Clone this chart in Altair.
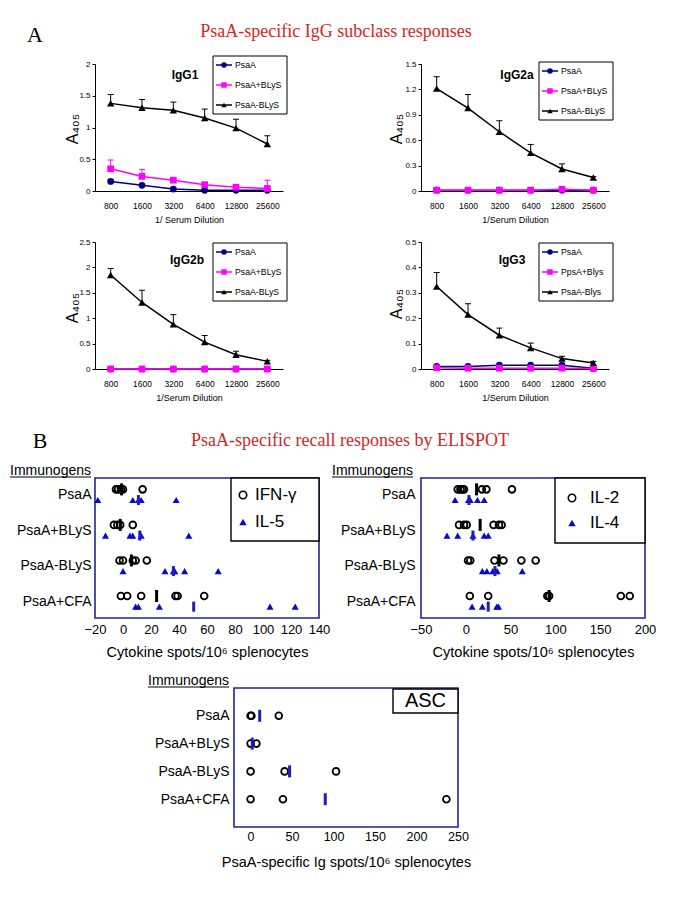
import json
import altair as alt
import pandas as pd

SANS = "Liberation Sans"
SERIF = "Liberation Serif"
NAVY = "#000080"
MAGENTA = "#ff00ff"
BLACK = "#000000"
RED = "#d42626"
BOX_BLUE = "#23238e"
TRI_BLUE = "#0a0acc"
BAR_BLUE = "#1e1eb4"

# ---------------- Panel A data ----------------
dilutions = ["800", "1600", "3200", "6400", "12800", "25600"]
igg_series = ["PsaA", "PsaA+BLyS", "PsaA-BLyS"]
igg3_series = ["PsaA", "PpsA+Blys", "PsaA-Blys"]

igg1_psaa = [0.15, 0.09, 0.03, 0.01, 0.01, 0.01]
igg1_psaa_top = [0.18, 0.11, 0.05, 0.02, 0.02, 0.02]
igg1_plus = [0.35, 0.23, 0.17, 0.10, 0.06, 0.04]
igg1_plus_top = [0.49, 0.34, 0.20, 0.13, 0.08, 0.17]
igg1_minus = [1.38, 1.31, 1.27, 1.15, 0.99, 0.74]
igg1_minus_top = [1.52, 1.44, 1.40, 1.29, 1.13, 0.87]

igg2a_psaa = [0.01, 0.01, 0.01, 0.01, 0.01, 0.01]
igg2a_psaa_top = [0.02, 0.02, 0.02, 0.02, 0.02, 0.02]
igg2a_plus = [0.01, 0.01, 0.01, 0.01, 0.02, 0.01]
igg2a_plus_top = [0.03, 0.02, 0.02, 0.02, 0.03, 0.02]
igg2a_minus = [1.21, 0.98, 0.70, 0.45, 0.26, 0.16]
igg2a_minus_top = [1.35, 1.14, 0.83, 0.55, 0.32, 0.17]

igg2b_psaa = [0.0, 0.0, 0.0, 0.0, 0.0, 0.0]
igg2b_psaa_top = [0.01, 0.01, 0.01, 0.01, 0.01, 0.01]
igg2b_plus = [0.0, 0.0, 0.0, 0.0, 0.0, 0.0]
igg2b_plus_top = [0.01, 0.01, 0.01, 0.01, 0.01, 0.01]
igg2b_minus = [1.85, 1.31, 0.88, 0.53, 0.28, 0.15]
igg2b_minus_top = [1.98, 1.55, 1.07, 0.66, 0.35, 0.17]

igg3_psaa = [0.010, 0.010, 0.015, 0.015, 0.015, 0.003]
igg3_psaa_top = [0.012, 0.012, 0.017, 0.017, 0.017, 0.005]
igg3_plus = [0.005, 0.003, 0.003, 0.003, 0.003, 0.002]
igg3_plus_top = [0.006, 0.004, 0.004, 0.004, 0.004, 0.003]
igg3_minus = [0.325, 0.214, 0.133, 0.083, 0.041, 0.024]
igg3_minus_top = [0.380, 0.257, 0.161, 0.102, 0.050, 0.030]

# ---------------- Panel B data ----------------
immunogens = ["PsaA", "PsaA+BLyS", "PsaA-BLyS", "PsaA+CFA"]

ifng = [[-5, -3.5, -1.5, 0, 14],
        [-6.5, -4, -2, 7],
        [-2.5, 0, 7, 9, 17],
        [-1.5, 3, 13, 37.5, 39, 58]]
ifng_mean = [-1, -2, 6, 24]
il5 = [[-18, 7, 11, 13, 38],
       [-12.5, 5, 7, 13, 47],
       [0, 30, 36, 37, 44, 68],
       [9, 11, 26, 105, 123]]
il5_mean = [11, 12, 36, 50.5]

il2 = [[-9, -6, -4, -2, 18, 23, 51.5],
       [-7.5, -2, 1, 31, 37, 40],
       [2.5, 5, 32, 42, 62, 78],
       [4.5, 25, 91, 93, 173, 183]]
il2_mean = [12, 16, 37, 93]
il4 = [[-12, 3, 5, 13, 20.5],
       [-21, -9, 8, 20.5, 25],
       [18.5, 23.5, 30, 35, 63],
       [7, 18.5, 34.5, 36.5]]
il4_mean = [3.5, 8, 32.5, 25]

asc = [[0, 1, 34],
       [0, 7],
       [0, 41, 103],
       [0, 39, 236]]
asc_mean = [11, 2, 47, 90]

ONE = pd.DataFrame({"k": [0]})


def txt(text, x, y, size, font=SANS, **kw):
    return alt.Chart(ONE).mark_text(text=text, fontSize=size, font=font, **kw).encode(
        x=alt.value(x), y=alt.value(y))


def rule(x1, y1, x2, y2, color="black", width=1.0, opacity=1.0):
    return alt.Chart(ONE).mark_rule(color=color, strokeWidth=width, strokeOpacity=opacity).encode(
        x=alt.value(x1), y=alt.value(y1), x2=alt.value(x2), y2=alt.value(y2))


def anchor(x, y1, y2):
    return rule(x, y1, x, y2, opacity=0, width=0.1)


def box(x1, y1, x2, y2, stroke="black", width=1.0, fill="white", fill_opacity=1.0):
    return alt.Chart(ONE).mark_rect(fill=fill, fillOpacity=fill_opacity, stroke=stroke,
                                    strokeWidth=width).encode(
        x=alt.value(x1), y=alt.value(y1), x2=alt.value(x2), y2=alt.value(y2))


def sym(x, y, shape, size, color, filled=True, sw=1.0):
    if filled:
        m = alt.Chart(ONE).mark_point(shape=shape, size=size, filled=True, color=color, opacity=1)
    else:
        m = alt.Chart(ONE).mark_point(shape=shape, size=size, filled=False, color=color,
                                      strokeWidth=sw, opacity=1)
    return m.encode(x=alt.value(x), y=alt.value(y))


def igg_panel(names, means, tops, ymax, yvals, label, label_xy, ylab_xy, xtitle, leg_y0,
              anchor_layer=None, extra=()):
    W, H = 188, 127
    colors = [NAVY, MAGENTA, BLACK]
    shapes = ["circle", "square", "triangle-up"]
    sizes = [45, 45, 55]
    x_enc = alt.X("dil:N", sort=dilutions, title=xtitle,
                  scale=alt.Scale(type="point", padding=0.5),
                  axis=alt.Axis(labelAngle=0, ticks=False, domainColor="black", domainWidth=1,
                                labelFontSize=8.5, labelPadding=10, labelFont=SANS,
                                labelColor="black", titleFont=SANS, titleFontSize=9,
                                titleFontWeight="normal", titleColor="black", titlePadding=6))

    def y_enc(field):
        return alt.Y(field, title=None,
                     scale=alt.Scale(domain=[0, ymax], nice=False, zero=True),
                     axis=alt.Axis(values=yvals, format="~g", grid=False, domainColor="black",
                                   tickColor="black", tickSize=3, labelFontSize=8,
                                   labelFont=SANS, labelColor="black", labelPadding=2))

    layers = []
    if anchor_layer is not None:
        layers.append(anchor_layer)
    for name, m, t, c, s, sz in zip(names, means, tops, colors, shapes, sizes):
        df = pd.DataFrame({"dil": dilutions, "v": m, "top": t})
        base = alt.Chart(df)
        layers.append(base.mark_rule(color=c, strokeWidth=1).encode(
            x=x_enc, y=y_enc("v:Q"), y2="top:Q"))
        layers.append(base.mark_tick(color=c, orient="horizontal", size=6, thickness=1,
                                     opacity=1).encode(x=x_enc, y=y_enc("top:Q")))
        layers.append(base.mark_line(color=c, strokeWidth=1.5).encode(x=x_enc, y=y_enc("v:Q")))
        layers.append(base.mark_point(shape=s, filled=True, size=sz, color=c, opacity=1).encode(
            x=x_enc, y=y_enc("v:Q")))
    # legend
    layers.append(box(118, leg_y0, 192, leg_y0 + 58, stroke="black", width=1))
    for i, (name, c, s) in enumerate(zip(names, colors, shapes)):
        yy = leg_y0 + 9 + 20 * i
        layers.append(rule(121, yy, 137, yy, color=c, width=1.5))
        layers.append(sym(129, yy, s, 30, c))
        layers.append(txt(name, 140, yy, 8.7, align="left", baseline="middle"))
    layers.append(txt(label, label_xy[0], label_xy[1], 12, fontWeight="bold"))
    layers.append(txt("A₄₀₅", ylab_xy[0], ylab_xy[1], 16, angle=270))
    layers.extend(extra)
    return alt.layer(*layers).properties(width=W, height=H)


def elispot_panel(circ, circ_mean, circ_mean_color, tri, tri_mean, xdom, xticks, xtitle,
                  W, H, ydom, off, label_pad, tick_font, title_pad, tick_pad, anchor_layer=None,
                  extra=()):
    rows = []
    for i, vals in enumerate(circ):
        for v in vals:
            rows.append({"row": i, "value": v, "kind": "c"})
    for i, vals in enumerate(tri):
        for v in vals:
            rows.append({"row": i, "value": v, "kind": "t"})
    pts = pd.DataFrame(rows)
    mrows = [{"row": i, "value": v, "kind": "c"} for i, v in enumerate(circ_mean)]
    mrows += [{"row": i, "value": v, "kind": "t"} for i, v in enumerate(tri_mean)]
    means = pd.DataFrame(mrows)
    calc = f"datum.row + (datum.kind == 'c' ? {-off} : {off})"

    x_enc = alt.X("value:Q", title=xtitle,
                  scale=alt.Scale(domain=xdom, nice=False, zero=False),
                  axis=alt.Axis(values=xticks, grid=False, ticks=False, domain=False,
                                labelFontSize=tick_font, labelFont=SANS, labelColor="black",
                                labelPadding=tick_pad, labelOverlap=False, labelFlush=False,
                                labelBound=False, titleFont=SANS,
                                titleFontSize=14.5, titleFontWeight="normal", titleColor="black",
                                titlePadding=title_pad))
    y_enc = alt.Y("ypos:Q", title=None,
                  scale=alt.Scale(domain=ydom, reverse=True, nice=False, zero=False),
                  axis=alt.Axis(values=[0, 1, 2, 3], labelExpr=f"{json.dumps(immunogens)}[datum.value]",
                                grid=False, ticks=False, domain=False, labelFontSize=14,
                                labelFlush=False, labelFont=SANS, labelColor="black",
                                labelPadding=label_pad))

    layers = []
    if anchor_layer is not None:
        layers.append(anchor_layer)
    layers.append(box(0, 0, W, H, stroke=BOX_BLUE, width=1.6, fill="white", fill_opacity=0))
    layers.append(alt.Chart(pts).transform_filter("datum.kind == 'c'").transform_calculate(
        ypos=calc).mark_point(shape="circle", filled=False, size=46, color="black",
                              strokeWidth=1.8, opacity=1).encode(x=x_enc, y=y_enc))
    layers.append(alt.Chart(means).transform_filter("datum.kind == 'c'").transform_calculate(
        ypos=calc).mark_tick(orient="vertical", size=12, thickness=3, opacity=1,
                             color=circ_mean_color).encode(x=x_enc, y=y_enc))
    if tri:
        layers.append(alt.Chart(pts).transform_filter("datum.kind == 't'").transform_calculate(
            ypos=calc).mark_point(shape="triangle-up", filled=True, size=50, color=TRI_BLUE,
                                  opacity=1).encode(x=x_enc, y=y_enc))
        layers.append(alt.Chart(means).transform_filter("datum.kind == 't'").transform_calculate(
            ypos=calc).mark_tick(orient="vertical", size=10, thickness=3, opacity=1,
                                 color=BAR_BLUE).encode(x=x_enc, y=y_enc))
    layers.extend(extra)
    return alt.layer(*layers).properties(width=W, height=H)


# ---------------- build panels ----------------
igg1 = igg_panel(
    igg_series,
    [igg1_psaa, igg1_plus, igg1_minus],
    [igg1_psaa_top, igg1_plus_top, igg1_minus_top],
    2, [0, 0.5, 1, 1.5, 2], "IgG1", (90, 11), (-22, 65), "1/ Serum Dilution", -8,
    anchor_layer=anchor(-87, -56, 168),
    extra=[txt("A", -60, -29, 22, font=SERIF),
           txt("PsaA-specific IgG subclass responses", 241, -32, 18, font=SERIF, color=RED)])

igg2a = igg_panel(
    igg_series,
    [igg2a_psaa, igg2a_plus, igg2a_minus],
    [igg2a_psaa_top, igg2a_plus_top, igg2a_minus_top],
    1.5, [0, 0.3, 0.6, 0.9, 1.2, 1.5], "IgG2a", (96, 11), (-24, 65), "1/Serum Dilution", -2)

igg2b = igg_panel(
    igg_series,
    [igg2b_psaa, igg2b_plus, igg2b_minus],
    [igg2b_psaa_top, igg2b_plus_top, igg2b_minus_top],
    2.5, [0, 0.5, 1, 1.5, 2, 2.5], "IgG2b", (92, 18), (-22, 66), "1/Serum Dilution", 1,
    anchor_layer=anchor(-87, -10, 186))

igg3 = igg_panel(
    igg3_series,
    [igg3_psaa, igg3_plus, igg3_minus],
    [igg3_psaa_top, igg3_plus_top, igg3_minus_top],
    0.5, [0, 0.1, 0.2, 0.3, 0.4, 0.5], "IgG3", (91, 18), (-24, 62), "1/Serum Dilution", 1)

XT = "Cytokine spots/10⁶ splenocytes"
E_YDOM = [-0.47, 3.47]

e1 = elispot_panel(
    ifng, ifng_mean, "black", il5, il5_mean, [-20, 140], [-20, 0, 20, 40, 60, 80, 100, 120, 140],
    XT, 224, 140, E_YDOM, 0.15, 4, 13, 9, 5,
    anchor_layer=anchor(-87, -50, 190),
    extra=[
        box(136, 0, 224, 63, stroke="black", width=1.4),
        sym(148, 17, "circle", 55, "black", filled=False, sw=1.6),
        txt("IFN-γ", 160, 17, 17, align="left", baseline="middle"),
        sym(148, 44, "triangle-up", 55, TRI_BLUE),
        txt("IL-5", 160, 44, 17, align="left", baseline="middle"),
        txt("Immunogens", -4, -3, 14, align="right", baseline="alphabetic"),
        rule(-85, -1, -4, -1, width=1),
        txt("B", -55, -37, 22, font=SERIF),
        txt("PsaA-specific recall responses by ELISPOT", 255, -37, 18, font=SERIF, color=RED),
    ])

e2 = elispot_panel(
    il2, il2_mean, "black", il4, il4_mean, [-50, 200], [-50, 0, 50, 100, 150, 200],
    XT, 224, 140, E_YDOM, 0.15, 6, 13, 9, 5,
    extra=[
        box(134, 0, 224, 65, stroke="black", width=1.4),
        sym(151, 20, "circle", 55, "black", filled=False, sw=1.6),
        txt("IL-2", 169, 20, 17, align="left", baseline="middle"),
        sym(151, 45, "triangle-up", 55, TRI_BLUE),
        txt("IL-4", 169, 45, 17, align="left", baseline="middle"),
        txt("Immunogens", -8, -3, 14, align="right", baseline="alphabetic"),
        rule(-89, -1, -8, -1, width=1),
    ])

e3 = elispot_panel(
    asc, asc_mean, BAR_BLUE, [], [], [-20, 250], [0, 50, 100, 150, 200, 250],
    "PsaA-specific Ig spots/10⁶ splenocytes", 224, 139, [-1.0, 4.0], 0, 5, 12.5, 13, 3,
    anchor_layer=anchor(-5, -20, 192),
    extra=[
        box(159, 1, 224, 25, stroke="black", width=1.4),
        txt("ASC", 191.5, 13, 20, align="center", baseline="middle"),
        txt("Immunogens", -5, -3, 14, align="right", baseline="alphabetic"),
        rule(-86, -1, -5, -1, width=1),
    ])

spacer = alt.Chart(ONE).mark_point(opacity=0, size=1).encode(
    x=alt.value(1), y=alt.value(1)).properties(width=139, height=139)

row1 = alt.hconcat(igg1, igg2a, spacing=138, bounds="flush")
row2 = alt.hconcat(igg2b, igg3, spacing=138, bounds="flush")
row3 = alt.hconcat(e1, e2, spacing=102, bounds="flush")
row4 = alt.hconcat(spacer, e3, spacing=0, bounds="flush")

chart = alt.vconcat(row1, row2, row3, row4, spacing=0).properties(
    padding=0, background="white"
).configure_view(strokeWidth=0)

chart.save("out.html", embed_options={"renderer": "svg", "actions": False})
